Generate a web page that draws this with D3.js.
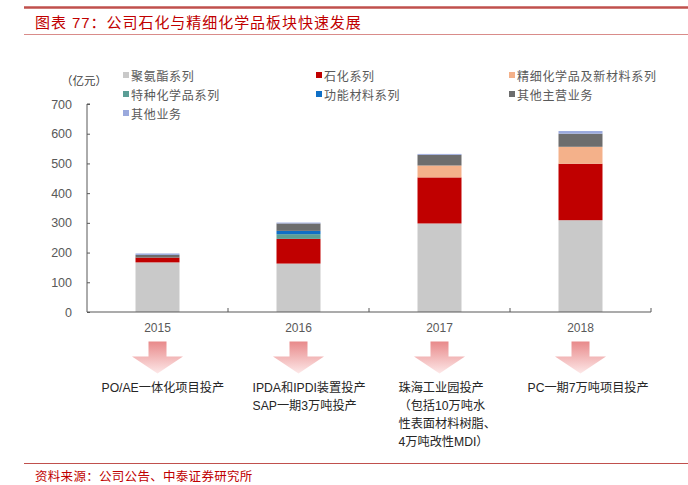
<!DOCTYPE html>
<html>
<head>
<meta charset="utf-8">
<script src="https://cdn.jsdelivr.net/npm/d3@7"></script>
<style>
  body { margin: 0; background: #fff; }
  svg text { font-family: "Liberation Sans", "Noto Sans CJK SC", sans-serif; }
</style>
</head>
<body>
<svg width="688" height="485"></svg>
<script>
const svg = d3.select('svg')

// data (亿元)
const years = ['2015', '2016', '2017', '2018'];
const seriesNames = ['聚氨酯系列', '石化系列', '精细化学品及新材料系列', '特种化学品系列', '功能材料系列', '其他主营业务', '其他业务'];
const polyurethane = [167, 163, 298, 309];
const petrochem = [16, 83, 155, 190];
const fineChem = [0, 0, 40, 57];
const specialChem = [0, 16, 0, 0];
const functionalMat = [0, 11, 0, 0];
const otherMain = [9, 25, 36, 44];
const otherBiz = [5, 3, 3, 9];
const yTicks = [0, 100, 200, 300, 400, 500, 600, 700];
const notes = [
  ['PO/AE一体化项目投产'],
  ['IPDA和IPDI装置投产', 'SAP一期3万吨投产'],
  ['珠海工业园投产', '（包括10万吨水', '性表面材料树脂、', '4万吨改性MDI）'],
  ['PC一期7万吨项目投产']
];

const colors = ['#c9c9c9', '#c00000', '#f4b18a', '#5b9e96', '#0f6fc6', '#6d6d6d', '#9aa9dd'];

// table for d3.stack
const allSeries = [polyurethane, petrochem, fineChem, specialChem, functionalMat, otherMain, otherBiz];
const table = years.map((yr, i) => {
  let row = { year: yr };
  seriesNames.forEach((s, k) => { row[s] = allSeries[k][i]; });
  return row;
});

// header / footer
svg.append('line').attr('x1', 24).attr('x2', 688).attr('y1', 7.5).attr('y2', 7.5)
  .attr('stroke', '#c0504d').attr('stroke-width', 2.5);
svg.append('text').attr('x', 35).attr('y', 28)
  .attr('fill', '#c00000').attr('font-size', 15).attr('letter-spacing', 0.95)
  .text('图表 77：公司石化与精细化学品板块快速发展');
svg.append('line').attr('x1', 24).attr('x2', 688).attr('y1', 34.5).attr('y2', 34.5)
  .attr('stroke', '#d98c8a').attr('stroke-width', 1);
svg.append('line').attr('x1', 24).attr('x2', 688).attr('y1', 463.5).attr('y2', 463.5)
  .attr('stroke', '#c0504d').attr('stroke-width', 1);
svg.append('text').attr('x', 35).attr('y', 481)
  .attr('fill', '#c00000').attr('font-size', 12.5).attr('letter-spacing', 0.3)
  .text('资料来源：公司公告、中泰证券研究所');

// scales
const x = d3.scaleBand().domain(years).range([87, 651]).padding(0);
const y = d3.scaleLinear().domain([0, 700]).range([312, 104]);
const barW = x.bandwidth() * 0.312;

const stack = d3.stack().keys(seriesNames)(table);

svg.append('g').selectAll('g')
  .data(stack)
  .enter().append('g')
    .attr('fill', (d, i) => colors[i])
  .selectAll('rect')
  .data(d => d)
  .enter().append('rect')
    .attr('x', d => x(d.data.year) + x.bandwidth() / 2 - barW / 2)
    .attr('width', barW)
    .attr('y', d => y(d[1]))
    .attr('height', d => y(d[0]) - y(d[1]));

// y axis
const yAxis = svg.append('g').attr('transform', 'translate(87,0)')
  .call(d3.axisRight(y).tickValues(yTicks).tickSize(3).tickFormat(''));
yAxis.select('.domain').attr('stroke', '#595959').attr('d', 'M3,104H0V312');
yAxis.selectAll('.tick line').attr('stroke', '#595959');
svg.append('g').selectAll('text')
  .data(yTicks)
  .enter().append('text')
    .attr('x', 72).attr('y', d => y(d) + 4.5)
    .attr('text-anchor', 'end').attr('font-size', 12.5).attr('fill', '#595959')
    .text(d => d);

svg.append('text').attr('x', 84).attr('y', 85)
  .attr('text-anchor', 'middle').attr('font-size', 11.5).attr('fill', '#404040')
  .text('（亿元）');

// x axis
svg.append('line').attr('x1', 87).attr('x2', 651).attr('y1', 312).attr('y2', 312)
  .attr('stroke', '#595959').attr('stroke-width', 1.2);
svg.append('g').selectAll('line')
  .data(years.slice(1).concat(['end']))
  .enter().append('line')
    .attr('x1', d => d == 'end' ? 651 : x(d)).attr('x2', d => d == 'end' ? 651 : x(d))
    .attr('y1', 312).attr('y2', 308)
    .attr('stroke', '#595959');
svg.append('g').selectAll('text')
  .data(years)
  .enter().append('text')
    .attr('x', d => x(d) + x.bandwidth() / 2).attr('y', 332)
    .attr('text-anchor', 'middle').attr('font-size', 12).attr('fill', '#595959')
    .text(d => d);

// legend
const legendPos = [[123, 76], [316, 76], [509, 76], [123, 95], [316, 95], [509, 95], [123, 114]];
const legend = svg.append('g').selectAll('g')
  .data(seriesNames)
  .enter().append('g')
    .attr('transform', (d, i) => 'translate(' + legendPos[i][0] + ',' + legendPos[i][1] + ')');
legend.append('rect').attr('x', 0).attr('y', -4).attr('width', 6).attr('height', 6)
  .attr('fill', (d, i) => colors[i]);
legend.append('text').attr('x', 8).attr('y', 4.5)
  .attr('font-size', 12).attr('letter-spacing', 0.7).attr('fill', '#595959')
  .text(d => d);

// gradient arrows
const defs = svg.append('defs');
const grad = defs.append('linearGradient').attr('id', 'arrowGrad')
  .attr('x1', 0).attr('x2', 0).attr('y1', 0).attr('y2', 1);
grad.append('stop').attr('offset', '0%').attr('stop-color', '#e8898a');
grad.append('stop').attr('offset', '100%').attr('stop-color', '#fde8e8');

svg.append('g').selectAll('path')
  .data(years)
  .enter().append('path')
    .attr('transform', d => 'translate(' + (x(d) + x.bandwidth() / 2) + ',0)')
    .attr('d', 'M-9,341.5H9V356.5H25.5L0,373.5L-25.5,356.5H-9Z')
    .attr('fill', 'url(#arrowGrad)');

// milestone notes
const noteOffsets = [-56, -46, -41, -53];
const noteG = svg.append('g').selectAll('text')
  .data(notes)
  .enter().append('text')
    .attr('x', (d, i) => x(years[i]) + x.bandwidth() / 2 + noteOffsets[i])
    .attr('y', 392)
    .attr('font-size', 12.2).attr('fill', '#262626');
noteG.selectAll('tspan')
  .data(d => d)
  .enter().append('tspan')
    .attr('x', function () { return d3.select(this.parentNode).attr('x'); })
    .attr('dy', (d, i) => i == 0 ? 0 : 18)
    .text(d => d);
</script>
</body>
</html>
